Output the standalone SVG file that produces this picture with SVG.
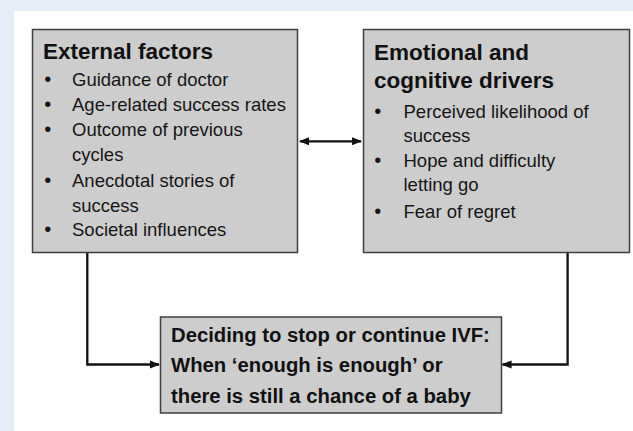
<svg xmlns="http://www.w3.org/2000/svg" width="633" height="431" viewBox="0 0 633 431">
  <style>
    .box { fill: #cdcdcd; stroke: #3f3f3f; stroke-width: 1.5; }
    .title { font-family: "Liberation Sans", Arial, sans-serif; font-weight: bold; font-size: 22.5px; fill: #111; }
    .item { font-family: "Liberation Sans", Arial, sans-serif; font-size: 18.5px; fill: #151515; }
    .dot { font-family: "Liberation Sans", Arial, sans-serif; font-size: 20px; fill: #151515; text-anchor: middle; }
    .decision { font-family: "Liberation Sans", Arial, sans-serif; font-weight: bold; font-size: 20.3px; fill: #111; }
    .link { fill: none; stroke: #111; stroke-width: 2.3; }
  </style>
  <defs>
    <marker id="head" viewBox="0 0 10 10" refX="9" refY="5" markerWidth="4.4" markerHeight="4.4" orient="auto-start-reverse" markerUnits="strokeWidth">
      <path d="M0,1 L10,5 L0,9 Z" fill="#111"/>
    </marker>
  </defs>

  <!-- page backdrop -->
  <rect x="0" y="0" width="633" height="431" fill="#e7eef8"/>
  <rect x="14" y="11" width="619" height="420" fill="#ffffff"/>

  <!-- connectors -->
  <g id="connectors">
    <path class="link" d="M300,141.3 H361" marker-start="url(#head)" marker-end="url(#head)"/>
    <path class="link" d="M87.3,253 V364.5 H159" marker-end="url(#head)"/>
    <path class="link" d="M567.6,253 V364.5 H502.5" marker-end="url(#head)"/>
  </g>

  <!-- external factors -->
  <g id="external-factors">
    <rect class="box" x="32.5" y="29.5" width="265" height="223"/>
    <text class="title" x="43" y="59">External factors</text>
    <text class="dot" x="47.7" y="86">•</text>
    <text class="item" x="72" y="86">Guidance of doctor</text>
    <text class="dot" x="47.7" y="111">•</text>
    <text class="item" x="72" y="111">Age-related success rates</text>
    <text class="dot" x="47.7" y="136">•</text>
    <text class="item" x="72" y="136">Outcome of previous</text>
    <text class="item" x="72" y="160.5">cycles</text>
    <text class="dot" x="47.7" y="186.5">•</text>
    <text class="item" x="72" y="186.5">Anecdotal stories of</text>
    <text class="item" x="72" y="211.5">success</text>
    <text class="dot" x="47.7" y="236">•</text>
    <text class="item" x="72" y="236">Societal influences</text>
  </g>

  <!-- emotional and cognitive drivers -->
  <g id="emotional-drivers">
    <rect class="box" x="363.5" y="29.5" width="266" height="223"/>
    <text class="title" x="374" y="59.5">Emotional and</text>
    <text class="title" x="374" y="87.5">cognitive drivers</text>
    <text class="dot" x="377.7" y="118">•</text>
    <text class="item" x="403.5" y="118">Perceived likelihood of</text>
    <text class="item" x="403.5" y="142">success</text>
    <text class="dot" x="377.7" y="167">•</text>
    <text class="item" x="403.5" y="167">Hope and difficulty</text>
    <text class="item" x="403.5" y="191">letting go</text>
    <text class="dot" x="377.7" y="217.5">•</text>
    <text class="item" x="403.5" y="217.5">Fear of regret</text>
  </g>

  <!-- decision -->
  <g id="decision">
    <rect class="box" x="160.5" y="317" width="341" height="96"/>
    <text class="decision" x="171" y="342">Deciding to stop or continue IVF:</text>
    <text class="decision" x="171" y="372">When ‘enough is enough’ or</text>
    <text class="decision" x="171" y="402.5">there is still a chance of a baby</text>
  </g>
</svg>
